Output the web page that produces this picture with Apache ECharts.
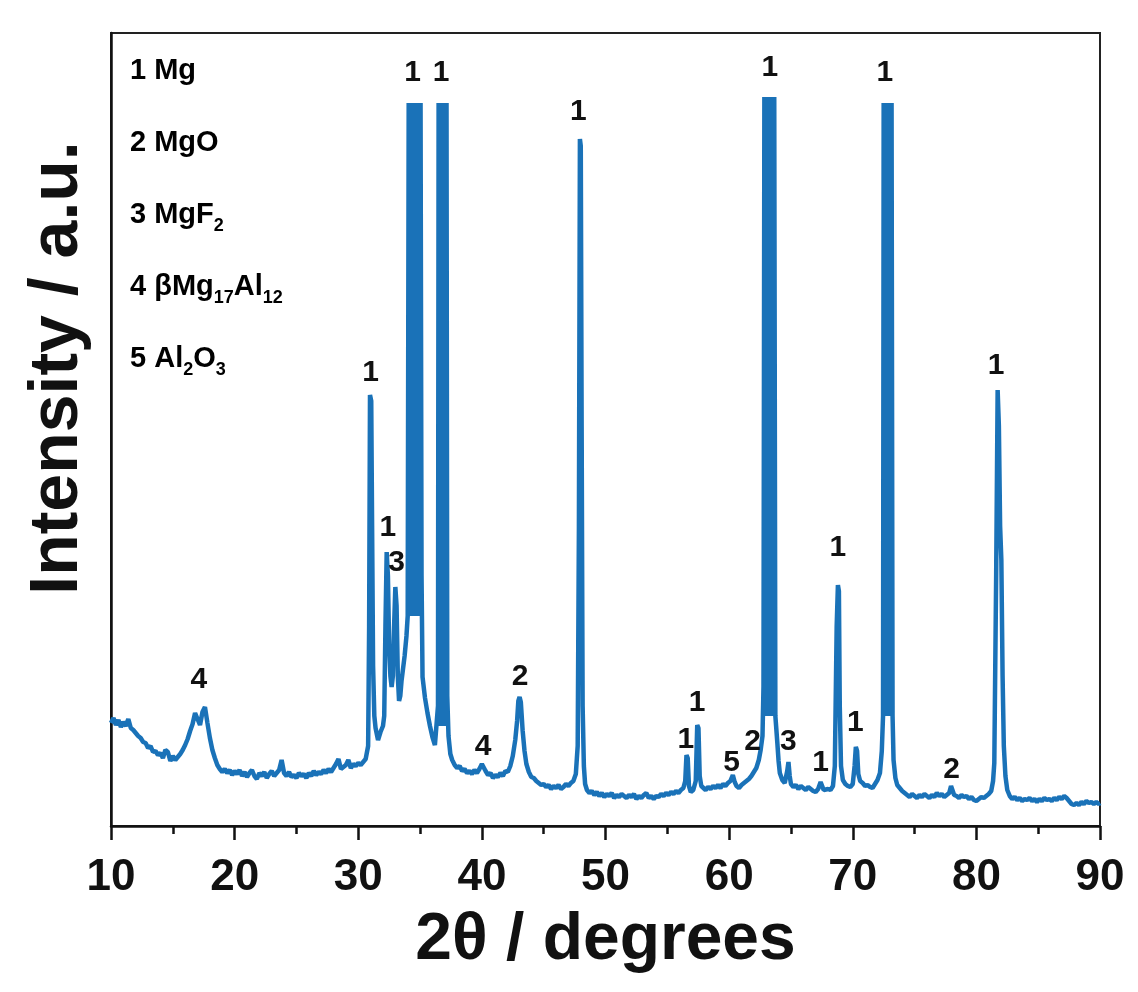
<!DOCTYPE html>
<html>
<head>
<meta charset="utf-8">
<title>XRD pattern</title>
<script src="https://cdn.jsdelivr.net/npm/echarts@6/dist/echarts.min.js"></script>
<style>
  html, body { margin: 0; padding: 0; background: #fff; }
  #chart { width: 1138px; height: 992px; }
</style>
</head>
<body>
<div id="chart"></div>
<script>
// XRD scan: [2theta, intensity (a.u.)]
var scanLow = [
  [10.0,103],[10.2,108],[10.4,101],[10.6,106],[10.8,99],[11.0,104],[11.2,100],[11.4,107],[11.6,98],[11.8,96],
  [12.0,93],[12.2,90],[12.4,88],[12.6,84],[12.8,83],[13.0,78],[13.2,80],[13.4,74],[13.6,75],[13.8,71],
  [14.0,73],[14.2,68],[14.4,76],[14.6,74],[14.8,65],[15.0,70],[15.2,66],[15.4,69],[15.6,72],[15.8,76],
  [16.0,81],[16.2,87],[16.4,95],[16.6,102],[16.8,113],[17.0,107],[17.2,101],[17.4,114],[17.6,119],[17.8,103],
  [18.0,88],[18.2,76],[18.4,68],[18.6,61],[18.8,57],[19.0,54],[19.2,57],[19.4,53],[19.6,56],[19.8,51],
  [20.0,55],[20.2,52],[20.4,56],[20.6,50],[20.8,54],[21.0,49],[21.2,53],[21.4,56],[21.6,50],[21.8,47],
  [22.0,53],[22.2,50],[22.4,54],[22.6,48],[22.8,52],[23.0,55],[23.2,50],[23.4,53],[23.6,56],[23.8,66],
  [24.0,53],[24.2,50],[24.4,54],[24.6,49],[24.8,51],[25.0,48],[25.2,53],[25.4,50],[25.6,52],[25.8,48],
  [26.0,53],[26.2,50],[26.4,55],[26.6,51],[26.8,54],[27.0,52],[27.2,56],[27.4,53],[27.6,57],[27.8,54],
  [28.0,58],[28.2,62],[28.4,67],[28.6,57],[28.8,59],[29.0,61],[29.2,66],[29.4,58],[29.6,62],[29.8,60],
  [30.0,63],[30.2,61],[30.4,64],[30.6,67],[30.8,80]
];
var scanMid = [
  [30.88,200],[30.95,431],[31.05,425],[31.12,300],[31.2,160],[31.3,110],[31.4,98],[31.5,92],[31.6,86],[31.7,90],
  [31.8,94],[31.9,97],[32.0,100],[32.1,110],[32.2,200],[32.3,274],[32.4,250],[32.5,180],[32.6,150],[32.7,139],
  [32.8,150],[32.9,200],[33.0,239],[33.1,220],[33.2,150],[33.3,125],[33.4,130],[33.5,145],[33.6,155],[33.75,170],
  [33.9,190],[34.0,210],
  [34.08,723],[34.16,210],[34.24,723],[34.32,210],[34.40,723],[34.48,210],[34.56,723],[34.64,210],[34.72,723],
  [34.80,210],[34.88,723],[34.96,210],[35.04,723],
  [35.12,250],[35.2,149],[35.4,128],[35.6,113],[35.8,100],[36.0,89],[36.2,81],[36.35,80],[36.45,120],
  [36.5,723],[36.58,100],[36.66,723],[36.74,100],[36.82,723],[36.9,100],[36.98,723],[37.06,100],[37.14,723],
  [37.2,130],[37.3,90],[37.45,72],[37.6,66],[37.8,61],[38.0,58],[38.2,60],[38.4,55],[38.6,57],[38.8,53],
  [39.0,55],[39.2,52],[39.4,56],[39.6,53],[39.8,57],[40.0,62],[40.1,60],[40.3,55],[40.5,51],[40.7,53],
  [40.9,48],[41.1,51],[41.3,49],[41.5,53],[41.7,50],[41.9,55],[42.1,54],[42.3,60],[42.5,70],[42.7,86],
  [42.85,105],[42.95,125],[43.05,129],[43.15,124],[43.3,95],[43.45,75],[43.6,62],[43.8,54],[44.0,49],[44.2,48],
  [44.4,45],[44.6,43],[44.8,41],[45.0,42],[45.2,39],[45.4,41],[45.6,37],[45.8,40],[46.0,38],[46.2,41],
  [46.4,37],[46.6,39],[46.8,42],[47.0,40],[47.2,43],[47.4,45],[47.6,52],[47.75,80],[47.85,300],[47.93,687],
  [48.0,680],[48.07,400],[48.15,120],[48.25,60],[48.35,42],[48.5,36],[48.7,33],[48.9,35],[49.1,31],[49.3,34],
  [49.5,30],[49.7,33],[49.9,29]
];
var scanHigh = [
  [50.1,32],[50.3,30],[50.5,33],[50.7,28],[50.9,31],[51.1,29],[51.3,32],[51.5,30],[51.7,28],[51.9,31],
  [52.1,29],[52.3,32],[52.5,27],[52.7,30],[52.9,28],[53.1,31],[53.3,33],[53.5,28],[53.7,30],[53.9,27],
  [54.1,30],[54.3,29],[54.5,32],[54.7,30],[54.9,33],[55.1,31],[55.3,34],[55.5,32],[55.7,35],[55.9,33],
  [56.1,36],[56.3,38],[56.45,45],[56.55,71],[56.65,68],[56.75,40],[56.9,34],[57.1,36],[57.3,45],[57.42,101],
  [57.52,98],[57.62,50],[57.75,40],[57.9,39],[58.1,36],[58.3,39],[58.5,37],[58.7,40],[58.9,38],[59.1,41],
  [59.3,38],[59.5,42],[59.7,40],[59.9,43],[60.1,45],[60.3,51],[60.45,44],[60.6,40],[60.8,38],[61.0,41],
  [61.2,43],[61.4,45],[61.6,47],[61.8,50],[62.0,54],[62.2,58],[62.4,66],[62.55,76],[62.7,90],[62.78,140],
  [62.85,729],[62.93,110],[63.01,729],[63.09,110],[63.17,729],[63.25,110],[63.33,729],[63.41,110],[63.49,729],
  [63.57,110],[63.65,729],[63.74,110],
  [63.8,100],[63.9,83],[64.0,65],[64.1,53],[64.3,46],[64.5,43],[64.7,55],[64.8,64],[64.9,50],[65.0,42],
  [65.2,39],[65.4,41],[65.6,37],[65.8,40],[66.0,38],[66.2,36],[66.4,39],[66.6,37],[66.8,35],[67.0,34],
  [67.2,37],[67.4,44],[67.5,43],[67.65,36],[67.8,34],[68.0,37],[68.2,36],[68.4,40],[68.55,60],[68.7,200],
  [68.8,241],[68.88,235],[68.95,120],[69.05,60],[69.2,46],[69.4,42],[69.6,40],[69.8,39],[70.0,42],[70.15,60],
  [70.25,79],[70.35,75],[70.45,52],[70.6,45],[70.8,43]
];
var scanTail = [
  [71.0,40],[71.2,41],[71.4,39],[71.6,38],[71.8,42],[72.0,46],[72.2,53],[72.35,75],[72.45,110],
  [72.5,723],[72.58,110],[72.66,723],[72.74,110],[72.82,723],[72.9,110],[72.98,723],[73.06,110],[73.14,723],
  [73.22,110],[73.3,66],[73.45,48],[73.6,41],[73.8,38],[74.0,35],[74.2,33],[74.4,31],[74.6,29],[74.8,32],
  [75.0,30],[75.2,28],[75.4,31],[75.6,29],[75.8,32],[76.0,30],[76.2,28],[76.4,31],[76.6,29],[76.8,33],
  [77.0,30],[77.2,32],[77.4,29],[77.6,31],[77.8,33],[77.95,40],[78.05,38],[78.2,31],[78.4,30],[78.6,28],
  [78.8,31],[79.0,29],[79.2,30],[79.4,27],[79.6,29],[79.8,26],[80.0,25],[80.2,27],[80.4,29],[80.6,28],
  [80.8,30],[81.0,32],[81.2,35],[81.35,45],[81.45,63],[81.6,250],[81.72,436],[81.82,400],[81.92,300],[82.02,266],
  [82.12,150],[82.22,80],[82.35,50],[82.5,36],[82.7,30],[82.9,27],[83.1,29],[83.3,26],[83.5,28],[83.7,25],
  [83.9,27],[84.1,26],[84.3,28],[84.5,25],[84.7,27],[84.9,24],[85.1,27],[85.3,25],[85.5,28],[85.7,26],
  [85.9,27],[86.1,25],[86.3,28],[86.5,26],[86.7,29],[86.9,27],[87.1,30],[87.3,28],[87.5,25],[87.7,22],
  [87.9,21],[88.1,23],[88.3,21],[88.5,24],[88.7,22],[88.9,25],[89.1,23],[89.3,24],[89.5,22],[89.7,24],
  [89.9,22],[90.0,23]
];

// phase markers above the peaks
var peakAngle  = [17.1, 31.0, 32.4, 33.1, 34.4, 36.7, 40.1, 43.1, 47.8, 56.5, 57.4, 60.2, 61.9, 63.3, 64.8, 67.4, 68.8, 70.2, 72.6, 78.0, 81.6];
var peakHeight = [146, 453, 298, 263, 753, 753, 79, 149, 714, 86, 123, 63, 84, 758, 84, 63, 278, 103, 753, 56, 460];
var peakPhase  = ['4','1','1','3','1','1','4','2','1','1','1','5','2','1','3','1','1','1','1','2','1'];

// phase key (rich text, s = subscript)
var phaseKey = [
  '{m|1 Mg}',
  '{m|2 MgO}',
  '{m|3 MgF}{s|2}',
  '{m|4 \u03b2Mg}{s|17}{m|Al}{s|12}',
  '{m|5 Al}{s|2}{m|O}{s|3}'
];

var xTicks = { min: 10, max: 90, step: 10 };

var FONT = '"Liberation Sans", Arial, Helvetica, sans-serif';
var chart = echarts.init(document.getElementById('chart'));

var scan = [].concat(scanLow, scanMid, scanHigh, scanTail);
var labelData = peakAngle.map(function (a, i) {
  return { value: [a, peakHeight[i]], name: peakPhase[i] };
});

var keyRich = {
  m: { fontFamily: FONT, fontWeight: 'bold', fontSize: 29, color: '#111', lineHeight: 40 },
  s: { fontFamily: FONT, fontWeight: 'bold', fontSize: 18, color: '#111', lineHeight: 40, verticalAlign: 'bottom' }
};
var keyGraphics = phaseKey.map(function (t, i) {
  return {
    type: 'text',
    x: 130,
    y: 71 + i * 72,
    style: { text: t, rich: keyRich, verticalAlign: 'middle', align: 'left' }
  };
});

chart.setOption({
  animation: false,
  backgroundColor: '#fff',
  grid: {
    left: 111, right: 38, top: 33, bottom: 166,
    show: true, borderColor: '#222', borderWidth: 2
  },
  xAxis: {
    type: 'value',
    min: xTicks.min, max: xTicks.max, interval: xTicks.step,
    name: '2\u03b8 / degrees',
    nameLocation: 'middle',
    nameGap: 82,
    nameTextStyle: { fontFamily: FONT, fontWeight: 'bold', fontSize: 66, color: '#111' },
    axisLine: { lineStyle: { color: '#111', width: 2.5 } },
    axisTick: { inside: false, length: 14, lineStyle: { color: '#111', width: 2.5 } },
    minorTick: { show: true, splitNumber: 2, length: 8, lineStyle: { color: '#111', width: 2.5 } },
    axisLabel: { fontFamily: FONT, fontWeight: 'bold', fontSize: 44, color: '#111', margin: 30 },
    splitLine: { show: false }
  },
  yAxis: {
    type: 'value',
    min: 0, max: 793,
    axisLine: { show: true, lineStyle: { color: '#111', width: 2.5 } },
    axisTick: { show: false },
    axisLabel: { show: false },
    splitLine: { show: false }
  },
  graphic: [{
    type: 'text',
    x: 58, y: 368,
    rotation: Math.PI / 2,
    style: {
      text: 'Intensity / a.u.',
      font: 'bold 68px ' + FONT,
      fill: '#111',
      align: 'center',
      verticalAlign: 'middle'
    }
  }].concat(keyGraphics),
  series: [{
    type: 'line',
    data: scan,
    showSymbol: false,
    clip: true,
    lineStyle: { color: '#1a72b8', width: 4.5 },
    z: 2
  }, {
    type: 'scatter',
    data: labelData,
    symbolSize: 0,
    itemStyle: { color: '#111', opacity: 1 },
    label: {
      show: true,
      position: 'inside',
      formatter: '{b}',
      fontFamily: FONT,
      fontWeight: 'bold',
      fontSize: 30,
      color: '#111',
      opacity: 1,
      textBorderWidth: 0
    },
    z: 3
  }]
});
</script>
</body>
</html>
